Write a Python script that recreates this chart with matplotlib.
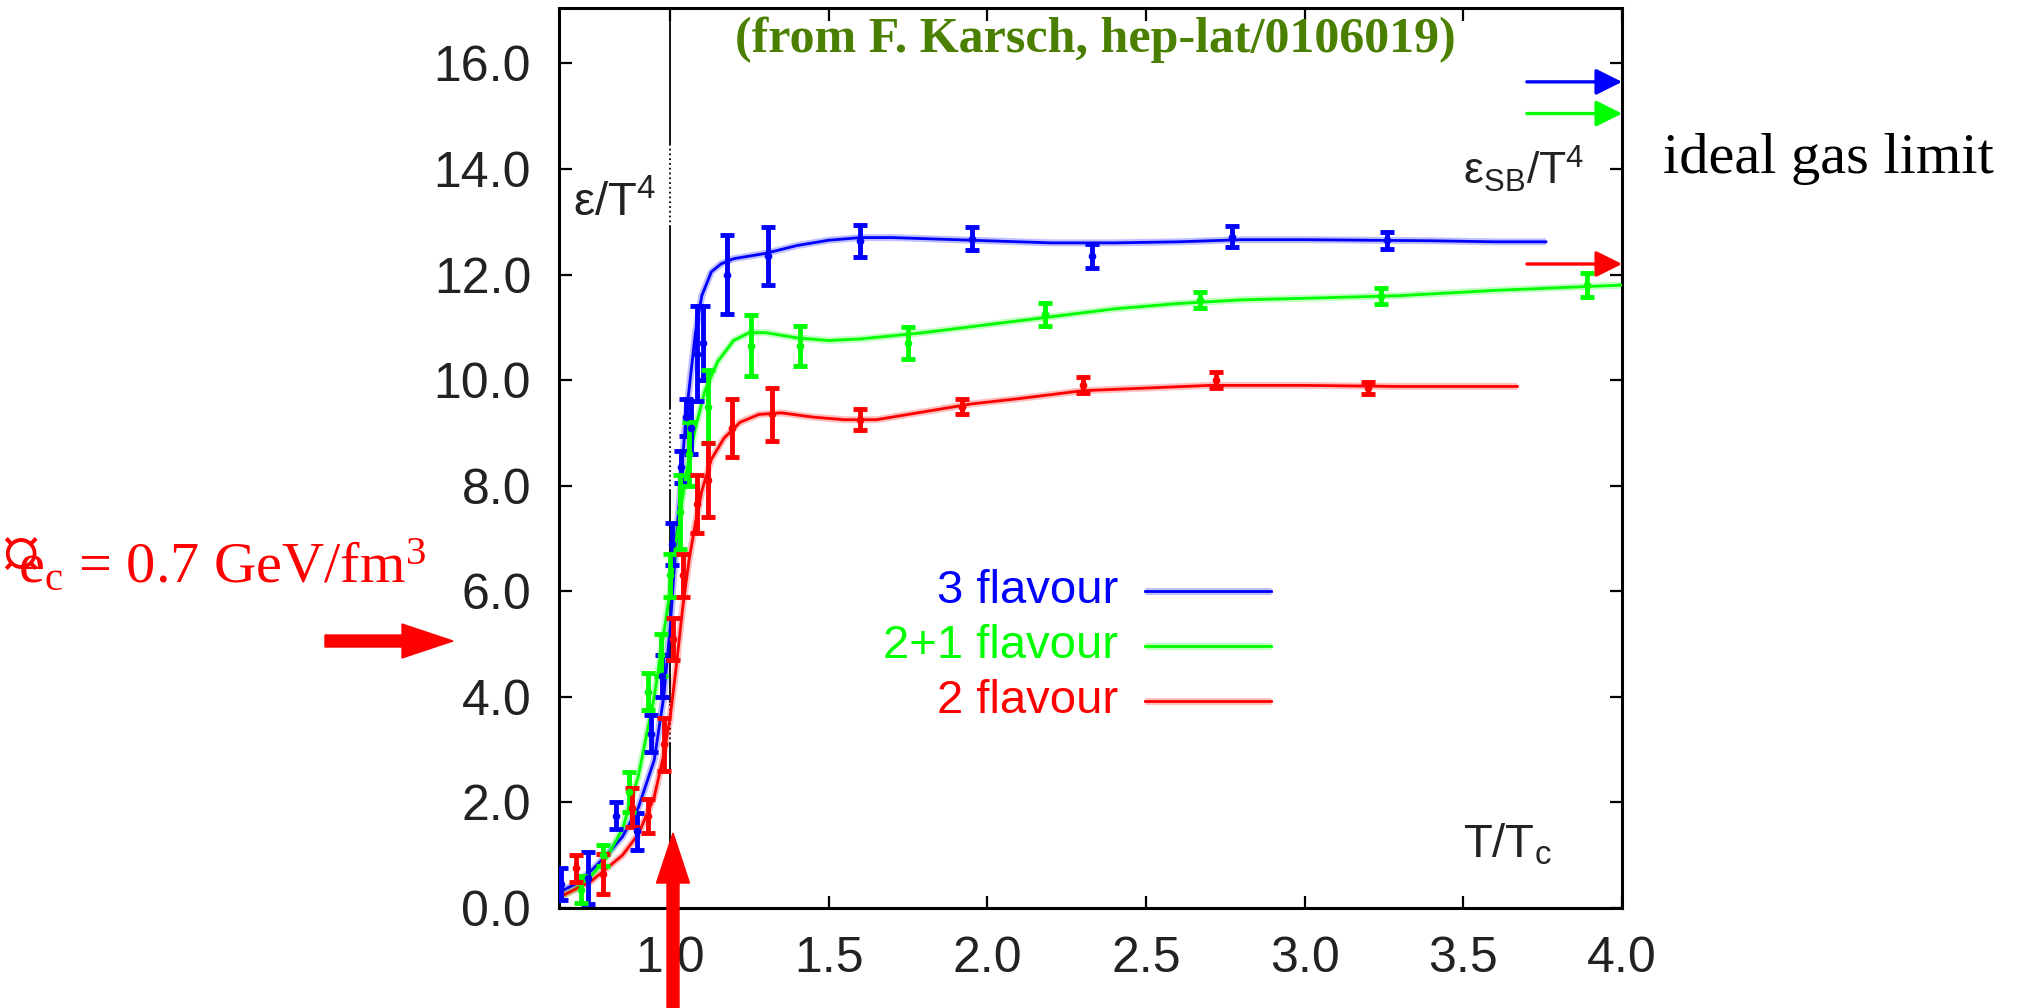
import matplotlib
matplotlib.use("Agg")
import matplotlib.pyplot as plt
from matplotlib.patches import FancyArrow

# Lattice QCD energy density, epsilon/T^4 vs T/Tc
plt.rcParams['mathtext.default'] = 'regular'
sans = ['Liberation Sans Narrow', 'Liberation Sans', 'DejaVu Sans']
serif = ['Liberation Serif', 'DejaVu Serif']

# 3 flavour
x3 = [0.655, 0.74, 0.83, 0.895, 0.94, 0.975, 1.005, 1.035, 1.05, 1.065, 1.085, 1.105, 1.18, 1.31, 1.60, 1.95, 2.33, 2.77, 3.26]
y3 = [0.45, 0.57, 1.75, 1.45, 3.3, 4.4, 6.9, 8.35, 9.3, 9.1, 10.5, 10.7, 12.0, 12.35, 12.63, 12.68, 12.35, 12.72, 12.65]
e3 = [0.3, 0.5, 0.25, 0.35, 0.35, 0.4, 0.4, 0.3, 0.35, 0.5, 0.9, 0.7, 0.75, 0.55, 0.3, 0.22, 0.22, 0.2, 0.16]
cx3 = [0.65, 0.70, 0.75, 0.80, 0.85, 0.90, 0.95, 0.98, 1.00, 1.02, 1.05, 1.08, 1.10, 1.13, 1.16, 1.20, 1.25, 1.30,
       1.40, 1.50, 1.60, 1.70, 1.80, 2.00, 2.20, 2.40, 2.60, 2.80, 3.00, 3.20, 3.40, 3.60, 3.76]
cy3 = [0.3, 0.45, 0.7, 1.0, 1.35, 1.9, 2.8, 4.0, 5.3, 7.0, 9.3, 10.9, 11.6, 12.05, 12.2, 12.3, 12.35, 12.4,
       12.55, 12.65, 12.7, 12.7, 12.68, 12.64, 12.6, 12.6, 12.62, 12.66, 12.66, 12.65, 12.64, 12.62, 12.62]

# 2+1 flavour
x21 = [0.72, 0.79, 0.87, 0.93, 0.97, 1.00, 1.03, 1.06, 1.12, 1.255, 1.41, 1.75, 2.18, 2.67, 3.24, 3.89]
y21 = [0.35, 1.0, 2.2, 4.1, 4.8, 6.3, 7.5, 8.6, 9.5, 10.65, 10.65, 10.7, 11.25, 11.52, 11.6, 11.8]
e21 = [0.25, 0.2, 0.38, 0.35, 0.4, 0.4, 0.7, 0.6, 0.7, 0.58, 0.38, 0.3, 0.22, 0.15, 0.15, 0.22]
cx21 = [0.65, 0.70, 0.75, 0.80, 0.85, 0.90, 0.95, 0.98, 1.00, 1.02, 1.05, 1.08, 1.11, 1.15, 1.20, 1.25, 1.30,
        1.40, 1.50, 1.60, 1.80, 2.00, 2.20, 2.40, 2.60, 2.80, 3.00, 3.30, 3.60, 4.00]
cy21 = [0.2, 0.35, 0.6, 0.95, 1.5, 2.5, 4.0, 5.2, 6.0, 7.0, 8.2, 9.1, 9.8, 10.35, 10.75, 10.9, 10.9,
        10.8, 10.75, 10.78, 10.9, 11.05, 11.2, 11.35, 11.45, 11.52, 11.55, 11.6, 11.7, 11.8]

# 2 flavour
x2 = [0.705, 0.79, 0.88, 0.93, 0.98, 1.01, 1.04, 1.085, 1.12, 1.195, 1.32, 1.60, 1.92, 2.30, 2.72, 3.20]
y2 = [0.75, 0.65, 1.9, 1.75, 3.1, 5.1, 6.3, 7.65, 8.1, 9.1, 9.35, 9.25, 9.5, 9.9, 10.0, 9.85]
e2 = [0.25, 0.38, 0.37, 0.32, 0.5, 0.4, 0.4, 0.55, 0.7, 0.55, 0.5, 0.2, 0.15, 0.15, 0.15, 0.12]
cx2 = [0.65, 0.70, 0.75, 0.80, 0.85, 0.90, 0.95, 0.98, 1.00, 1.02, 1.04, 1.06, 1.08, 1.10, 1.13, 1.17, 1.22,
       1.28, 1.35, 1.45, 1.55, 1.65, 1.80, 1.95, 2.10, 2.30, 2.50, 2.70, 3.00, 3.30, 3.67]
cy2 = [0.2, 0.35, 0.5, 0.75, 1.0, 1.4, 2.1, 2.9, 3.6, 4.6, 5.7, 6.6, 7.3, 7.9, 8.5, 8.9, 9.2,
       9.35, 9.38, 9.3, 9.25, 9.25, 9.4, 9.55, 9.65, 9.8, 9.85, 9.9, 9.9, 9.88, 9.88]

# Stefan-Boltzmann (ideal gas) limits
sb_limits = [15.65, 15.05, 12.2]

labels = ['3 flavour', '2+1 flavour', '2 flavour']
colors = ['#0000ff', '#00ff00', '#ff0000']
xticks = [1.0, 1.5, 2.0, 2.5, 3.0, 3.5, 4.0]
yticks = [0, 2, 4, 6, 8, 10, 12, 14, 16]

fig = plt.figure(figsize=(20.21, 10.08), dpi=100)
ax = fig.add_axes([0.2766, 0.0992, 0.526, 0.8929])

series = [(x3, y3, e3, cx3, cy3), (x21, y21, e21, cx21, cy21), (x2, y2, e2, cx2, cy2)]
for (px, py, pe, cx, cy), col in zip(series, colors):
    ax.plot(cx, cy, color=col, lw=5, alpha=0.25, solid_capstyle='butt', zorder=2)
    ax.plot(cx, cy, color=col, lw=2.0, zorder=3)
    ax.errorbar(px, py, yerr=pe, fmt='o', ms=4.5, color=col, elinewidth=3.5,
                capsize=5, capthick=3.5, zorder=4)

# arrows marking the ideal gas values at the right edge
for val, col in zip(sb_limits, colors):
    ax.annotate('', xy=(4.0, val), xytext=(3.70, val),
                arrowprops=dict(arrowstyle='-|>', color=col, lw=2.4,
                                mutation_scale=40, shrinkA=0, shrinkB=0),
                annotation_clip=False, zorder=5)

# T = Tc marker line, broken where it passes the labels
segs = [(14.5, 17.05, '-'), (12.9, 14.5, ':'), (9.5, 12.9, '-'), (7.9, 9.5, ':'),
        (3.9, 7.9, '-'), (3.1, 3.9, ':'), (0.0, 3.1, '-')]
for y0, y1, ls in segs:
    ax.plot([1.0, 1.0], [y0, y1], color='black', lw=1.3, ls=ls, zorder=1)

ax.set_xlim(0.65, 4.0)
ax.set_ylim(0, 17.05)
ax.set_xticks(xticks)
ax.set_xticklabels(['%.1f' % v for v in xticks])
ax.set_yticks(yticks)
ax.set_yticklabels(['%.1f' % v for v in yticks])
for lab in ax.get_xticklabels() + ax.get_yticklabels():
    lab.set_family(sans)
    lab.set_fontsize(36)
    lab.set_color('#222222')
ax.tick_params(direction='in', length=9, width=1.6, top=True, right=True, pad=20)
for sp in ax.spines.values():
    sp.set_linewidth(2.2)

# hand-drawn legend
ly = [6.0, 4.96, 3.92]
for lab, col, yy in zip(labels, colors, ly):
    ax.text(2.412, yy, lab, color=col, family=sans, fontsize=34, ha='right', va='center')
    ax.plot([2.497, 2.894], [yy, yy], color=col, lw=5, alpha=0.25, solid_capstyle='butt')
    ax.plot([2.497, 2.894], [yy, yy], color=col, lw=2.0)

ax.text(0.825, 13.1, r'ε/T$^4$', family=sans, fontsize=34, color='#222222',
        ha='center', va='baseline')
ax.text(3.5, 13.71, r'ε$_{SB}$/T$^4$', family=sans, fontsize=32, color='#222222',
        ha='left', va='baseline')
ax.text(3.5, 0.95, r'T/T$_c$', family=sans, fontsize=34, color='#222222',
        ha='left', va='baseline')

fig.text(1095 / 2021, 1 - 40 / 1008, '(from F. Karsch, hep-lat/0106019)', family=serif,
         fontweight='bold', fontsize=36, color='#4a7f00', ha='center', va='center')
fig.text(1663 / 2021, 1 - 173 / 1008, 'ideal gas limit', family=serif, fontsize=42,
         ha='left', va='baseline')
fig.text(0.0, 1 - 580 / 1008, '¤', family=serif, fontsize=58, color='red', ha='left', va='baseline')
fig.text(18 / 2021, 1 - 582 / 1008, r'e$_c$ = 0.7 GeV/fm$^3$', family=serif, fontsize=42,
         color='red', ha='left', va='baseline')

# big red arrows pointing at epsilon_c and T_c
fig.patches.append(FancyArrow(3.25, 3.67, 1.28, 0, width=0.12, head_width=0.34, head_length=0.51,
                              length_includes_head=True, color='red', transform=fig.dpi_scale_trans))
fig.patches.append(FancyArrow(6.73, 0.0, 0, 1.75, width=0.12, head_width=0.33, head_length=0.50,
                              length_includes_head=True, color='red', transform=fig.dpi_scale_trans))

fig.savefig('out.png', dpi=100)
